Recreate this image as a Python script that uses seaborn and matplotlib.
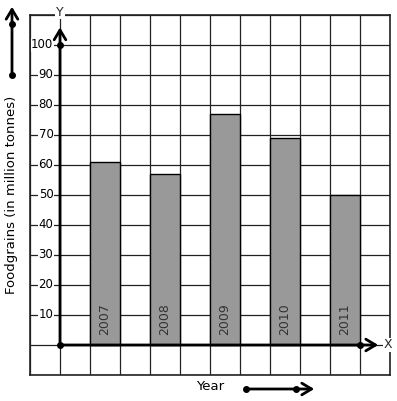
import matplotlib
matplotlib.use("Agg")
import matplotlib.pyplot as plt
import seaborn as sns
import numpy as np

sns.set_theme(style="white")
plt.rcParams['font.family'] = ['DejaVu Sans']

# Data
years = [2007, 2008, 2009, 2010, 2011]
foodgrains = [61, 57, 77, 69, 50]
y_ticks = [10, 20, 30, 40, 50, 60, 70, 80, 90, 100]

W, H = 397, 401
fig = plt.figure(figsize=(W / 100, H / 100), dpi=100)
ax = fig.add_axes([30 / W, 26 / H, 360 / W, 360 / H])

# bar centres: one empty cell between bars
pos = [2 * (y - years[0]) + 1.5 for y in years]
sns.barplot(x=pos, y=foodgrains, native_scale=True, width=0.5, color='#999999',
            saturation=1, edgecolor='black', linewidth=1, ax=ax, zorder=3)

ax.set_xlim(-1, 11)
ax.set_ylim(-10, 110)
ax.set_xticks(np.arange(-1, 12, 1))
ax.set_yticks(np.arange(-10, 111, 10))
ax.grid(True, color='#222222', linewidth=0.9, zorder=0)
ax.set_axisbelow(True)
ax.tick_params(left=False, bottom=False, labelleft=False, labelbottom=False)
ax.set_xlabel('')
ax.set_ylabel('')
for s in ax.spines.values():
    s.set_color('#222222')
    s.set_linewidth(1.2)

# tick labels sitting on the grid lines
for t in y_ticks:
    ax.text(-0.22, t, str(t), ha='right', va='center', fontsize=8.5, color='black',
            bbox=dict(facecolor='white', edgecolor='none', pad=0.3), zorder=4)

# year labels inside bars
for p, yr in zip(pos, years):
    ax.text(p, 3.2, str(yr), rotation=90, ha='center', va='bottom', fontsize=9,
            color='#333333', zorder=4)

# axes arrows
arrow = dict(arrowstyle='->,head_length=0.5,head_width=0.3', lw=2, color='black',
             mutation_scale=14)
ax.annotate('', xy=(0, 106.8), xytext=(0, 0), arrowprops=arrow, zorder=5)
ax.annotate('', xy=(10.7, 0), xytext=(0, 0), arrowprops=arrow, zorder=5)
ax.plot([0, 0, 10], [0, 100, 0], 'o', color='black', markersize=4, zorder=6, clip_on=False)
ax.text(0, 111, 'Y', ha='center', va='center', fontsize=9,
        bbox=dict(facecolor='white', edgecolor='none', pad=0.5), clip_on=False)
ax.text(10.93, 0, 'X', ha='center', va='center', fontsize=9,
        bbox=dict(facecolor='white', edgecolor='none', pad=0.5), clip_on=False)

# overlay for outside decorations (pixel coordinates)
ov = fig.add_axes([0, 0, 1, 1], zorder=10)
ov.set_xlim(0, W)
ov.set_ylim(H, 0)
ov.axis('off')
ov.patch.set_alpha(0)

ov.text(12, 195, 'Foodgrains (in million tonnes)', rotation=90, ha='center', va='center',
        fontsize=9.5, color='black')
ov.annotate('', xy=(12, 4), xytext=(12, 75), arrowprops=arrow)
ov.plot([12, 12], [24, 75], 'o', color='black', markersize=4)

ov.text(210, 387, 'Year', ha='center', va='center', fontsize=9.5, color='black')
ov.annotate('', xy=(317, 389), xytext=(246, 389), arrowprops=arrow)
ov.plot([246, 296], [389, 389], 'o', color='black', markersize=4)

plt.savefig('out.png', dpi=100)
